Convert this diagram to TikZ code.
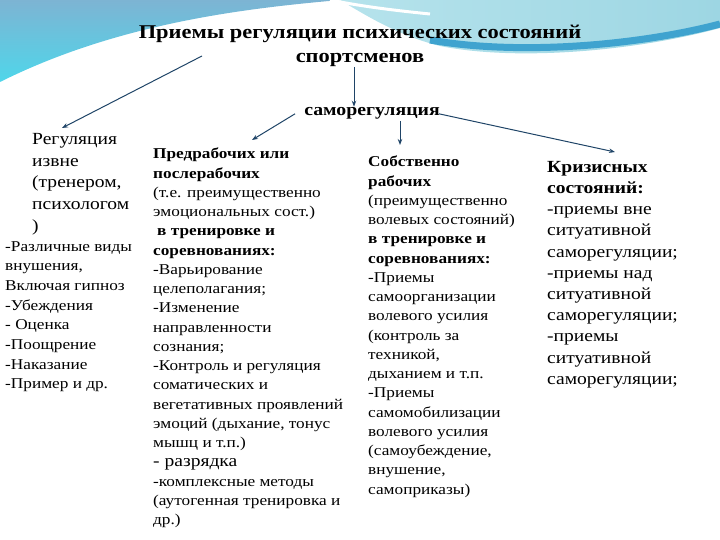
\documentclass[tikz,border=0pt]{standalone}
\usepackage{fontspec}
\setmainfont[FakeStretch=1.15]{Liberation Serif}
\usepackage{xcolor}
\usetikzlibrary{arrows.meta, positioning}

\definecolor{arrowblue}{HTML}{1F4467}
\definecolor{steelsky}{HTML}{7DB4D3}
\definecolor{cyansky}{HTML}{4FD6EA}
\definecolor{aqualight}{HTML}{B6E3EC}
\definecolor{aquamid}{HTML}{9DD6E3}
\definecolor{aquaband}{HTML}{3FA3CF}

\begin{document}
\begin{tikzpicture}[x=1pt, y=-1pt,
  arr/.style={-{Stealth[length=6pt, width=4.5pt]}, draw=arrowblue, line width=1pt},
  txt/.style={anchor=north west, align=left, inner sep=0pt, text=black}]
  \useasboundingbox (0,0) rectangle (720,540);

  % background swoosh
  \shade[top color=steelsky, bottom color=cyansky]
    (0,0) -- (340,0) .. controls (250,8) and (120,22) .. (0,82) -- cycle;
  \shade[left color=aqualight, right color=aquamid]
    (340,0) -- (720,0) -- (720,28) .. controls (640,50) and (520,62) .. (440,46)
    .. controls (400,36) and (370,18) .. (340,0) -- cycle;
  \draw[aquaband, line width=7pt]
    (720,24) .. controls (640,45) and (520,56) .. (430,40);
  \draw[white, line width=3pt] (330,0) .. controls (360,6) and (390,10) .. (430,14);

  % title and self-regulation
  \node[anchor=north, align=center, inner sep=0pt,
    font=\fontsize{19.5}{24}\selectfont\bfseries] (title) at (360,25)
    {Приемы регуляции психических состояний\\спортсменов};
  \node[anchor=base, inner sep=1pt, font=\fontsize{17.2}{19}\selectfont\bfseries]
    (self) at (372,116) {саморегуляция};

  % columns
  \node[txt, font=\fontsize{17}{21.7}\selectfont] (ext) at (32,133)
    {Регуляция\\извне\\(тренером,\\психологом\\)};
  \node[txt, font=\fontsize{15}{19.7}\selectfont] (extlist) at (5,241)
    {-Различные виды\\внушения,\\Включая гипноз\\-Убеждения\\- Оценка\\-Поощрение\\-Наказание\\-Пример и др.};
  \node[txt, font=\fontsize{15}{19.25}\selectfont] (pre) at (153,148)
    {\textbf{Предрабочих или}\\\textbf{послерабочих}\\(т.е. преимущественно\\эмоциональных сост.)\\
     \hspace*{4pt}\textbf{в тренировке и}\\\textbf{соревнованиях:}\\-Варьирование\\целеполагания;\\
     -Изменение\\направленности\\сознания;\\-Контроль и регуляция\\соматических и\\
     вегетативных проявлений\\эмоций (дыхание, тонус\\мышц и т.п.)\\
     {\fontsize{17}{19.25}\selectfont - разрядка}\\-комплексные методы\\(аутогенная тренировка и\\др.)};
  \node[txt, font=\fontsize{15}{19.25}\selectfont] (own) at (368,156)
    {\textbf{Собственно}\\\textbf{рабочих}\\(преимущественно\\волевых состояний)\\
     \textbf{в тренировке и}\\\textbf{соревнованиях:}\\-Приемы\\самоорганизации\\волевого усилия\\
     (контроль за\\техникой,\\дыханием и т.п.\\-Приемы\\самомобилизации\\волевого усилия\\
     (самоубеждение,\\внушение,\\самоприказы)};
  \node[txt, font=\fontsize{17}{21.2}\selectfont] (crisis) at (547,161)
    {\textbf{Кризисных}\\\textbf{состояний:}\\-приемы вне\\ситуативной\\саморегуляции;\\
     -приемы над\\ситуативной\\саморегуляции;\\-приемы\\ситуативной\\саморегуляции;};

  % arrows
  \draw[arr] ([xshift=-158pt, yshift=11pt]title.south) -- ([xshift=30pt, yshift=5pt]ext.north west);
  \draw[arr] ([xshift=-6pt]title.south) -- ([xshift=-6pt]title.south |- self.north);
  \draw[arr] ([xshift=-8pt]self.west) -- ([xshift=99pt, yshift=8pt]pre.north west);
  \draw[arr] ([xshift=28pt]self.south) -- ([xshift=32pt, yshift=11pt]own.north west);
  \draw[arr] ([xshift=-2pt]self.east) -- ([xshift=68pt, yshift=9pt]crisis.north west);
\end{tikzpicture}
\end{document}
